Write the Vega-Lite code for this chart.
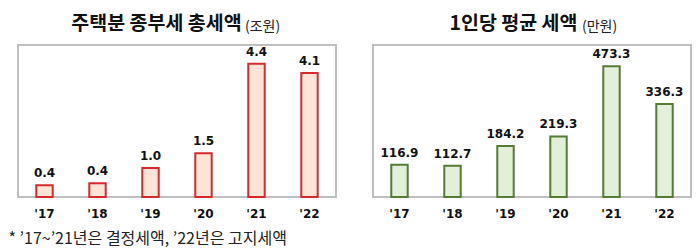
{
  "$schema": "https://vega.github.io/schema/vega-lite/v6.json",
  "padding": {"left": 7, "top": 12, "right": 10, "bottom": 0},
  "background": "white",
  "spacing": 35,
  "datasets": {
    "tax": [
      {"year": "'17", "value": 0.39, "label": "0.4"},
      {"year": "'18", "value": 0.45, "label": "0.4"},
      {"year": "'19", "value": 0.95, "label": "1.0"},
      {"year": "'20", "value": 1.44, "label": "1.5"},
      {"year": "'21", "value": 4.38, "label": "4.4"},
      {"year": "'22", "value": 4.08, "label": "4.1"}
    ],
    "avg": [
      {"year": "'17", "value": 116.9, "label": "116.9"},
      {"year": "'18", "value": 112.7, "label": "112.7"},
      {"year": "'19", "value": 184.2, "label": "184.2"},
      {"year": "'20", "value": 219.3, "label": "219.3"},
      {"year": "'21", "value": 473.3, "label": "473.3"},
      {"year": "'22", "value": 336.3, "label": "336.3"}
    ]
  },
  "hconcat": [
    {
      "width": 318,
      "height": 152,
      "data": {"name": "tax"},
      "title": {"text": "(조원)", "anchor": "start", "frame": "group", "dx": 227, "offset": -32, "baseline": "alphabetic", "font": "Noto Sans CJK KR", "fontSize": 14, "fontWeight": "normal", "color": "#222222"},
      "layer": [
        {
          "mark": {"type": "bar", "fill": "#fce4d6", "stroke": "#d62a2f", "strokeWidth": 2},
          "encoding": {
            "x": {
              "field": "year", "type": "nominal", "sort": null,
              "scale": {"paddingInner": 0.69, "paddingOuter": 0.345},
              "axis": {"orient": "bottom", "title": "* ’17~’21년은 결정세액, ’22년은 고지세액", "titleX": -10, "titleY": 46, "titleAlign": "left", "titleBaseline": "alphabetic", "titleFont": "Noto Sans CJK KR", "titleFontSize": 16, "titleFontWeight": "normal", "titleColor": "#222222", "labelAngle": 0, "ticks": false, "domain": false, "labelPadding": 11, "labelFont": "DejaVu Sans", "labelFontWeight": "bold", "labelFontSize": 12, "labelColor": "#111111"}
            },
            "y": {
              "field": "value", "type": "quantitative",
              "scale": {"domain": [0, 5]},
              "axis": null
            }
          }
        },
        {
          "mark": {"type": "text", "baseline": "bottom", "dy": -5, "font": "DejaVu Sans", "fontWeight": "bold", "fontSize": 12, "color": "#111111"},
          "encoding": {
            "x": {
              "field": "year", "type": "nominal", "sort": null,
              "axis": {"orient": "top", "labels": false, "ticks": false, "domain": false, "title": "주택분 종부세 총세액", "titleX": 138, "titleY": -16, "titleAlign": "center", "titleBaseline": "alphabetic", "titleFont": "Noto Sans CJK KR", "titleFontSize": 19.5, "titleFontWeight": "bold", "titleColor": "#111111"}
            },
            "y": {"field": "value", "type": "quantitative", "axis": null},
            "text": {"field": "label"}
          }
        }
      ]
    },
    {
      "width": 318,
      "height": 152,
      "data": {"name": "avg"},
      "title": {"text": "(만원)", "anchor": "start", "frame": "group", "dx": 209, "offset": -32, "baseline": "alphabetic", "font": "Noto Sans CJK KR", "fontSize": 14, "fontWeight": "normal", "color": "#222222"},
      "layer": [
        {
          "mark": {"type": "bar", "fill": "#e2efd9", "stroke": "#557b36", "strokeWidth": 2},
          "encoding": {
            "x": {
              "field": "year", "type": "nominal", "sort": null,
              "scale": {"paddingInner": 0.69, "paddingOuter": 0.345},
              "axis": {"orient": "bottom", "title": null, "labelAngle": 0, "ticks": false, "domain": false, "labelPadding": 11, "labelFont": "DejaVu Sans", "labelFontWeight": "bold", "labelFontSize": 12, "labelColor": "#111111"}
            },
            "y": {
              "field": "value", "type": "quantitative",
              "scale": {"domain": [0, 550]},
              "axis": null
            }
          }
        },
        {
          "mark": {"type": "text", "baseline": "bottom", "dy": -5, "font": "DejaVu Sans", "fontWeight": "bold", "fontSize": 12, "color": "#111111"},
          "encoding": {
            "x": {
              "field": "year", "type": "nominal", "sort": null,
              "axis": {"orient": "top", "labels": false, "ticks": false, "domain": false, "title": "1인당 평균 세액", "titleX": 140, "titleY": -16, "titleAlign": "center", "titleBaseline": "alphabetic", "titleFont": "Noto Sans CJK KR", "titleFontSize": 19.5, "titleFontWeight": "bold", "titleColor": "#111111"}
            },
            "y": {"field": "value", "type": "quantitative", "axis": null},
            "text": {"field": "label"}
          }
        }
      ]
    }
  ],
  "config": {
    "view": {"stroke": "#bfbfbf", "strokeWidth": 2}
  }
}
